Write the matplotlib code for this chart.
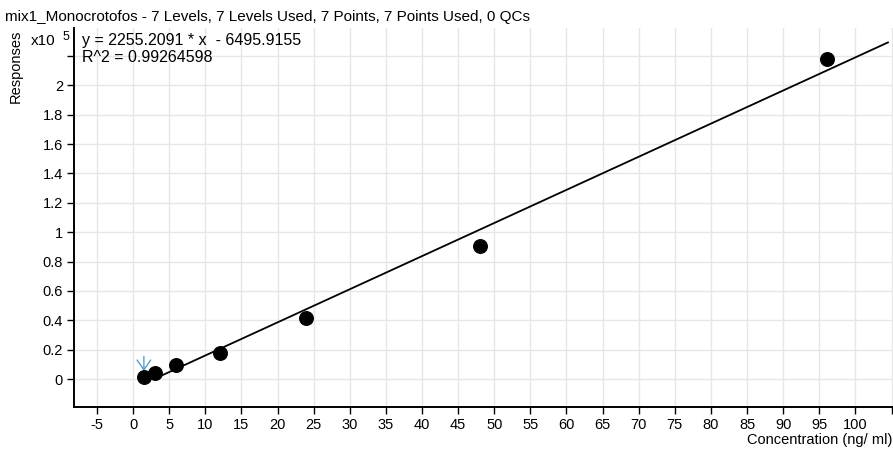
import numpy as np
import matplotlib
matplotlib.use("Agg")
import matplotlib.pyplot as plt

plt.rcParams["font.family"] = ["Liberation Sans", "DejaVu Sans"]

# calibration levels (ng/ml) and measured responses
conc = [1.5, 3, 6, 12, 24, 48, 96]
response = [1400, 4000, 9500, 18000, 41500, 90500, 218000]

# linear fit reported by the quant software
slope = 2255.2091
intercept = -6495.9155
r2 = 0.99264598
fit_range = [3, 104.5]

title = "mix1_Monocrotofos - 7 Levels, 7 Levels Used, 7 Points, 7 Points Used, 0 QCs"
x_ticks = list(range(-5, 106, 5))
y_ticks = [0, 0.2, 0.4, 0.6, 0.8, 1.0, 1.2, 1.4, 1.6, 1.8, 2.0, 2.2]

fig = plt.figure(figsize=(8.93, 4.57), dpi=100)
ax = fig.add_axes([0.0829, 0.1094, 0.9171, 0.8293])

scale = 1e5
xf = np.array(fit_range)
ax.plot(xf, (slope * xf + intercept) / scale, color="black", lw=1.3, zorder=3)
ax.scatter(conc, np.array(response) / scale, s=95, color="black", zorder=4)

# marker above the lowest level
ax.annotate("", xy=(conc[0], 0.055), xytext=(conc[0], 0.155),
            arrowprops=dict(arrowstyle="->,head_length=0.5,head_width=0.35",
                            color="#5b9bc8", lw=1.0, shrinkA=0, shrinkB=0,
                            mutation_scale=14))

ax.set_xlim(-8.17, 105.2)
ax.set_ylim(-0.19, 2.39)
ax.set_xticks(x_ticks)
ax.set_xticklabels([str(t) if t <= 100 else "" for t in x_ticks])
ax.set_yticks(y_ticks)
ax.set_yticklabels([("%g" % t) if t <= 2.0 else "" for t in y_ticks])
ax.grid(True, color="#e6e6e6", lw=1.0)
ax.set_axisbelow(True)
for side in ("top", "right"):
    ax.spines[side].set_visible(False)
for side in ("left", "bottom"):
    ax.spines[side].set_linewidth(1.4)
ax.tick_params(axis="both", direction="out", length=5, width=1.0,
               labelsize=10.5, colors="black", pad=3)

fig.text(0.006, 0.963, title, fontsize=11, va="center", ha="left")
fig.text(0.018, 0.855, "Responses", rotation=90, fontsize=10.5,
         va="center", ha="center")
fig.text(0.034, 0.911, "x10", fontsize=11, va="center", ha="left")
fig.text(0.070, 0.920, "5", fontsize=9, va="center", ha="left")
fig.text(0.092, 0.911, "y = %.4f * x  - %.4f" % (slope, -intercept),
         fontsize=11.5, va="center", ha="left")
fig.text(0.092, 0.874, "R^2 = %.8f" % r2, fontsize=11.5, va="center", ha="left")
fig.text(0.999, 0.037, "Concentration (ng/ ml)", fontsize=10.5,
         va="center", ha="right")

fig.savefig("out.png", dpi=100)
